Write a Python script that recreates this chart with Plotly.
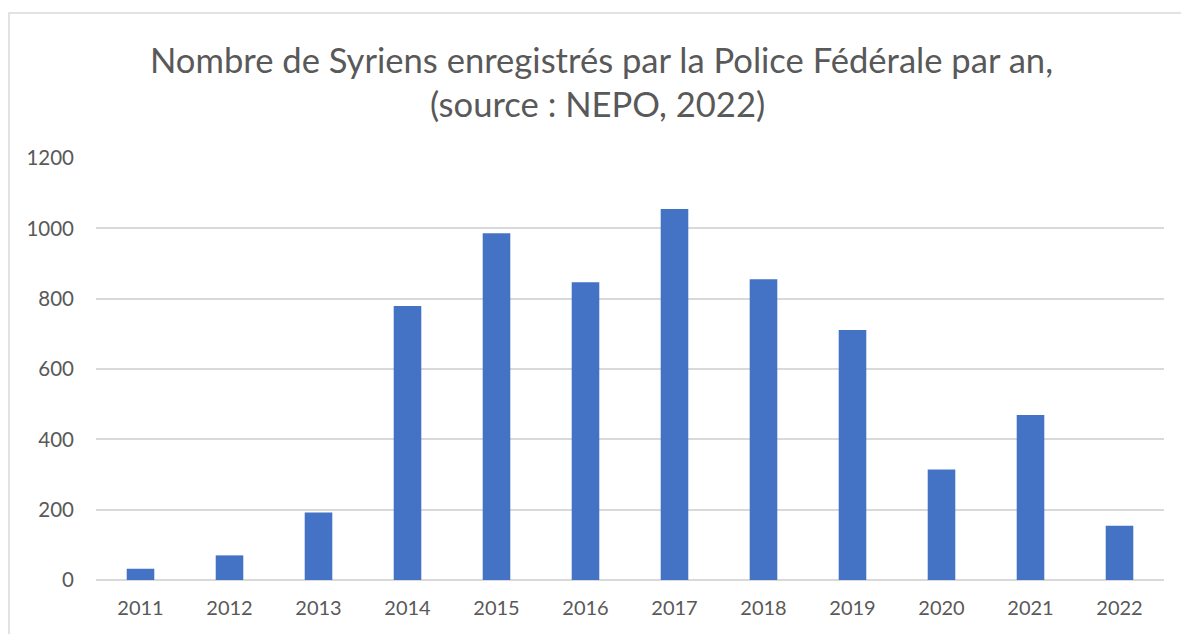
import plotly.graph_objects as go

years = ["2011", "2012", "2013", "2014", "2015", "2016", "2017", "2018", "2019", "2020", "2021", "2022"]
counts = [32, 70, 192, 779, 986, 847, 1055, 855, 711, 314, 469, 154]
y_ticks = [0, 200, 400, 600, 800, 1000, 1200]
title_line1 = "Nombre de Syriens enregistrés par la Police Fédérale par an,"
title_line2 = "(source : NEPO, 2022)"

# page body has an 8px margin; work in reference pixel coords and shift
OFF = 8
W, H = 1189 - OFF, 634 - OFF
L, T = 96 - OFF, 158 - OFF
pw, ph = 1068, 422
R = W - L - pw
B = H - T - ph

fig = go.Figure()
fig.add_trace(go.Bar(x=years, y=counts, marker=dict(color="#4472C4", line=dict(width=0)), width=0.31))

def px2x(px):
    return (px - OFF - L) / pw

def py2y(py):
    return (T + ph - (py - OFF)) / ph

fig.update_layout(
    width=W, height=H,
    margin=dict(l=L, r=R, t=T, b=B),
    paper_bgcolor="white", plot_bgcolor="white",
    showlegend=False,
    font=dict(family="Lato, 'Open Sans', sans-serif", color="#595959", size=20),
    xaxis=dict(type="category", showgrid=False, ticks="", ticklabelstandoff=14,
               tickfont=dict(size=20, color="#595959"), showline=False, zeroline=False),
    yaxis=dict(range=[0, 1200], tickvals=y_ticks, showgrid=True, gridcolor="#d9d9d9", gridwidth=1.5,
               zeroline=True, zerolinecolor="#d9d9d9", zerolinewidth=1.5, ticks="",
               ticklabelstandoff=21, tickfont=dict(size=20.5, color="#595959"), showline=False),
    shapes=[dict(type="rect", xref="paper", yref="paper",
                 x0=px2x(9), x1=px2x(1200), y0=py2y(650), y1=py2y(13),
                 line=dict(color="#d9d9d9", width=1.5), fillcolor="rgba(0,0,0,0)", layer="below")],
    annotations=[
        dict(text=title_line1, xref="paper", yref="paper", x=px2x(601), y=py2y(60),
             xanchor="center", yanchor="middle", showarrow=False,
             font=dict(size=34.6, color="#595959", family="Lato, sans-serif")),
        dict(text=title_line2, xref="paper", yref="paper", x=px2x(597), y=py2y(104),
             xanchor="center", yanchor="middle", showarrow=False,
             font=dict(size=34.6, color="#595959", family="Lato, sans-serif")),
    ],
)

fig.write_html("out.html")
